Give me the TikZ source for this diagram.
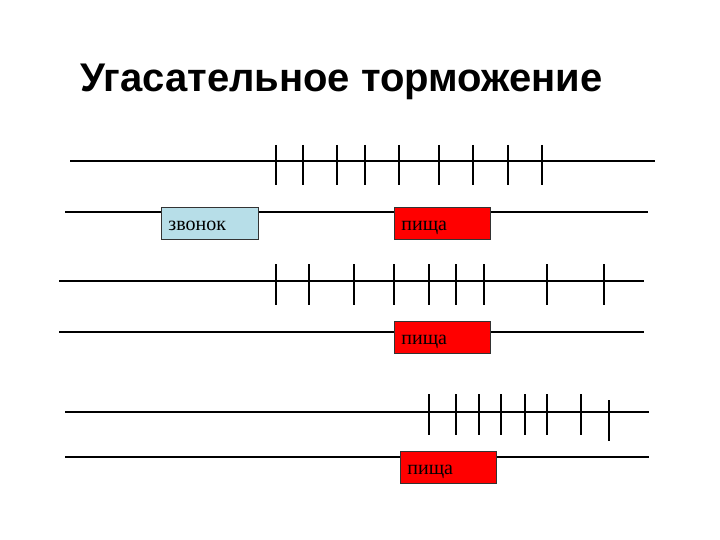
\documentclass[tikz,border=0pt]{standalone}
\usepackage{fontspec}
\setmainfont{Liberation Serif}
\newfontfamily\titlefont{Liberation Sans}
\usepackage{tikz}
\usetikzlibrary{positioning,calc}

\definecolor{bellblue}{HTML}{B7DEE8}
\definecolor{foodred}{HTML}{FF0000}

\begin{document}
\begin{tikzpicture}[
    x=1pt, y=-1pt,
    track/.style={line width=2.6pt},
    spike/.style={line width=1.1pt},
    stim/.style={rectangle, draw=black!80, line width=0.8pt, minimum height=32pt, anchor=north west, inner xsep=7pt, text height=14pt, text depth=0pt, font=\fontsize{20}{20}\selectfont},
    bell/.style={stim, fill=bellblue, minimum width=97pt, text width=83pt},
    food/.style={stim, fill=foodred, minimum width=96pt, text width=82pt}
]
\useasboundingbox (0,0) rectangle (720,540);

\node[font=\titlefont\bfseries\fontsize{40}{40}\selectfont, anchor=west, inner sep=0pt] (title) at (80,82) {Угасательное торможение};

% first pair: bell + food
\coordinate (t1a) at (70,161);  \coordinate (t1b) at (655,161);
\coordinate (s1a) at (65,212);  \coordinate (s1b) at (648,212);
\draw[track] (t1a) -- (t1b);
\draw[track] (s1a) -- (s1b);
\foreach \x in {276,303,337,365,399,439,473,508,542}
    \draw[spike] (\x,145) -- (\x,185);
\node[bell] (bell1) at (161,207) {звонок};
\node[food] (food1) at (394,207) {пища};

% second pair: food only
\coordinate (t2a) at (59,281);  \coordinate (t2b) at (644,281);
\coordinate (s2a) at (59,332);  \coordinate (s2b) at (644,332);
\draw[track] (t2a) -- (t2b);
\draw[track] (s2a) -- (s2b);
\foreach \x in {276,309,354,394,429,456,484,547,604}
    \draw[spike] (\x,264) -- (\x,305);
\node[food] (food2) at (394,321) {пища};

% third pair: food only
\coordinate (t3a) at (65,412);  \coordinate (t3b) at (649,412);
\coordinate (s3a) at (65,457);  \coordinate (s3b) at (649,457);
\draw[track] (t3a) -- (t3b);
\draw[track] (s3a) -- (s3b);
\foreach \x in {429,456,479,501,525,547,581}
    \draw[spike] (\x,394) -- (\x,435);
\draw[spike] (609,400) -- (609,441);
\node[food] (food3) at (400,451) {пища};

\end{tikzpicture}
\end{document}
